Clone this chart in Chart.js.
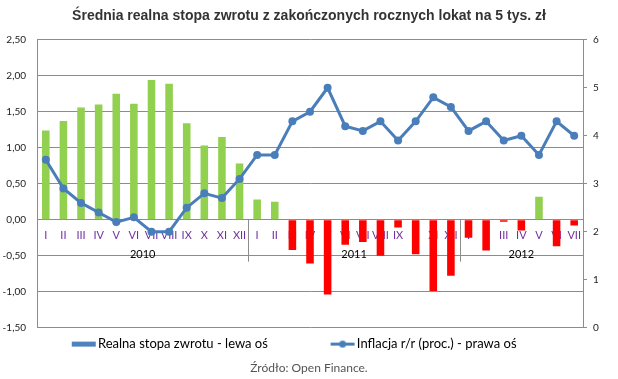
<!DOCTYPE html>
<html>
<head>
<meta charset="utf-8">
<script src="https://cdn.jsdelivr.net/npm/chart.js@4.4.1/dist/chart.umd.min.js"></script>
<style>
html,body{margin:0;padding:0;background:#ffffff;}
#wrap{width:618px;height:379px;position:relative;}
</style>
</head>
<body>
<div id="wrap"><canvas id="c"></canvas></div>
<script>
// ---- data ----
const months = ['I','II','III','IV','V','VI','VII','VIII','IX','X','XI','XII',
                'I','II','III','IV','V','VI','VII','VIII','IX','X','XI','XII',
                'I','II','III','IV','V','VI','VII'];
const years = ['2010','2011','2012'];
const monthsInYear = [12,12,7];
const realReturn = [1.24,1.37,1.56,1.60,1.75,1.61,1.94,1.89,1.34,1.03,1.15,0.78,
                    0.28,0.25,-0.42,-0.61,-1.04,-0.35,-0.31,-0.50,-0.11,-0.48,-0.99,-0.78,
                    -0.25,-0.43,-0.03,-0.15,0.32,-0.37,-0.08];
const inflation = [3.5,2.9,2.6,2.4,2.2,2.3,2.0,2.0,2.5,2.8,2.7,3.1,
                   3.6,3.6,4.3,4.5,5.0,4.2,4.1,4.3,3.9,4.3,4.8,4.6,
                   4.1,4.3,3.9,4.0,3.6,4.3,4.0];
const leftAxis = {min:-1.5, max:2.5, step:0.5};
const rightAxis = {min:0, max:6, step:1};
const seriesNames = ['Realna stopa zwrotu - lewa oś','Inflacja r/r (proc.) - prawa oś'];
const titleText = 'Średnia realna stopa zwrotu z zakończonych rocznych lokat na 5 tys. zł';
const sourceText = 'Źródło: Open Finance.';

// ---- styles ----
const GREEN = '#92D050', RED = '#FF0000', BLUE = '#4A7EBB', LEGEND_BLUE = '#4F81BD';
const GRID = '#8C8C8C';
const TICKFONT = "Lato, 'Open Sans', sans-serif";

const PW = 72.5; // legend point-style box width
function legendImage(kind){
  const w = 83, h = 9;
  const c = document.createElement('canvas');
  c.width = w; c.height = h;
  const g = c.getContext('2d');
  if (kind === 'bar') {
    g.fillStyle = LEGEND_BLUE;
    g.fillRect(w - 25, 2, 24, 5);
  } else {
    g.strokeStyle = BLUE; g.lineWidth = 3;
    g.beginPath(); g.moveTo(w - 25, 4.5); g.lineTo(w - 1, 4.5); g.stroke();
    g.fillStyle = BLUE;
    g.beginPath(); g.arc(w - 13, 4.5, 3.5, 0, Math.PI*2); g.fill();
  }
  return c;
}
const legendImgs = [legendImage('bar'), legendImage('line')];

const legendShift = {
  id: 'legendShift',
  afterLayout(chart){ if (chart.legend) chart.legend.left = 9; }
};

const yearPlugin = {
  id: 'yearLabels',
  afterDraw(chart){
    const x = chart.scales.x, y = chart.scales.y;
    const ctx = chart.ctx;
    const y0 = y.getPixelForValue(0);
    ctx.save();
    ctx.strokeStyle = GRID; ctx.lineWidth = 1;
    ctx.fillStyle = '#000000';
    ctx.font = "11px " + TICKFONT;
    ctx.textAlign = 'center'; ctx.textBaseline = 'middle';
    let start = 0;
    years.forEach((yr, k) => {
      const n = monthsInYear[k];
      const a = x.getPixelForValue(start), b = x.getPixelForValue(start + n - 1);
      ctx.fillText(yr, (a + b) / 2, y0 + 35);
      if (start > 0) {
        const sx = Math.round((x.getPixelForValue(start - 1) + a) / 2) + 0.5;
        ctx.beginPath(); ctx.moveTo(sx, y0); ctx.lineTo(sx, y0 + 42); ctx.stroke();
      }
      start += n;
    });
    ctx.restore();
  }
};

new Chart(document.getElementById('c'), {
  data: {
    labels: months,
    datasets: [
      {
        type: 'line', label: seriesNames[1], data: inflation, yAxisID: 'y1', order: 0,
        borderColor: BLUE, backgroundColor: BLUE, borderWidth: 3,
        pointRadius: 4, pointBackgroundColor: BLUE, pointBorderWidth: 0, tension: 0
      },
      {
        type: 'bar', label: seriesNames[0], data: realReturn, yAxisID: 'y', order: 1,
        backgroundColor: (c) => (c.raw >= 0 ? GREEN : RED),
        barPercentage: 0.43, categoryPercentage: 1.0
      }
    ]
  },
  options: {
    responsive: true, maintainAspectRatio: false, animation: false,
    devicePixelRatio: 1,
    layout: { padding: 0 },
    scales: {
      x: {
        type: 'category', position: { y: 0 },
        grid: { display: false, drawTicks: false },
        border: { display: false },
        ticks: { color: '#7030A0', font: { size: 11, family: TICKFONT }, padding: 9, autoSkip: false, maxRotation: 0 }
      },
      y: {
        position: 'left', min: leftAxis.min, max: leftAxis.max,
        afterFit: (s) => { s.width = 37; },
        grid: { color: GRID, drawTicks: false },
        border: { display: true, color: GRID },
        ticks: { stepSize: leftAxis.step, color: '#222', padding: 11, font: { size: 10, family: TICKFONT },
                 callback: (v) => v.toFixed(2).replace('.', ',') }
      },
      y1: {
        position: 'right', min: rightAxis.min, max: rightAxis.max,
        afterFit: (s) => { s.width = 35; },
        grid: { drawOnChartArea: false, color: GRID, tickLength: 4 },
        border: { display: true, color: GRID },
        ticks: { stepSize: rightAxis.step, color: '#222', padding: 6, font: { size: 10, family: TICKFONT } }
      }
    },
    plugins: {
      title: {
        display: true, text: titleText, color: '#333333',
        font: { size: 14, weight: 'bold', family: "'Liberation Sans Narrow', 'Liberation Sans', Arial, sans-serif" },
        padding: { top: 8, bottom: 15 }
      },
      legend: {
        display: true, position: 'bottom', align: 'start',
        labels: {
          usePointStyle: true, pointStyleWidth: PW, padding: 10,
          color: '#222', font: { size: 13, family: TICKFONT },
          generateLabels: () => [0, 1].map(i => ({
            text: seriesNames[i], pointStyle: legendImgs[i], fillStyle: 'transparent',
            strokeStyle: 'transparent', lineWidth: 0, hidden: false, datasetIndex: i
          }))
        }
      },
      subtitle: {
        display: true, position: 'bottom', text: sourceText, color: '#555555',
        font: { size: 12, family: TICKFONT }, padding: { top: 0, bottom: 4 }
      },
      tooltip: { enabled: false }
    }
  },
  plugins: [yearPlugin, legendShift]
});
</script>
</body>
</html>
